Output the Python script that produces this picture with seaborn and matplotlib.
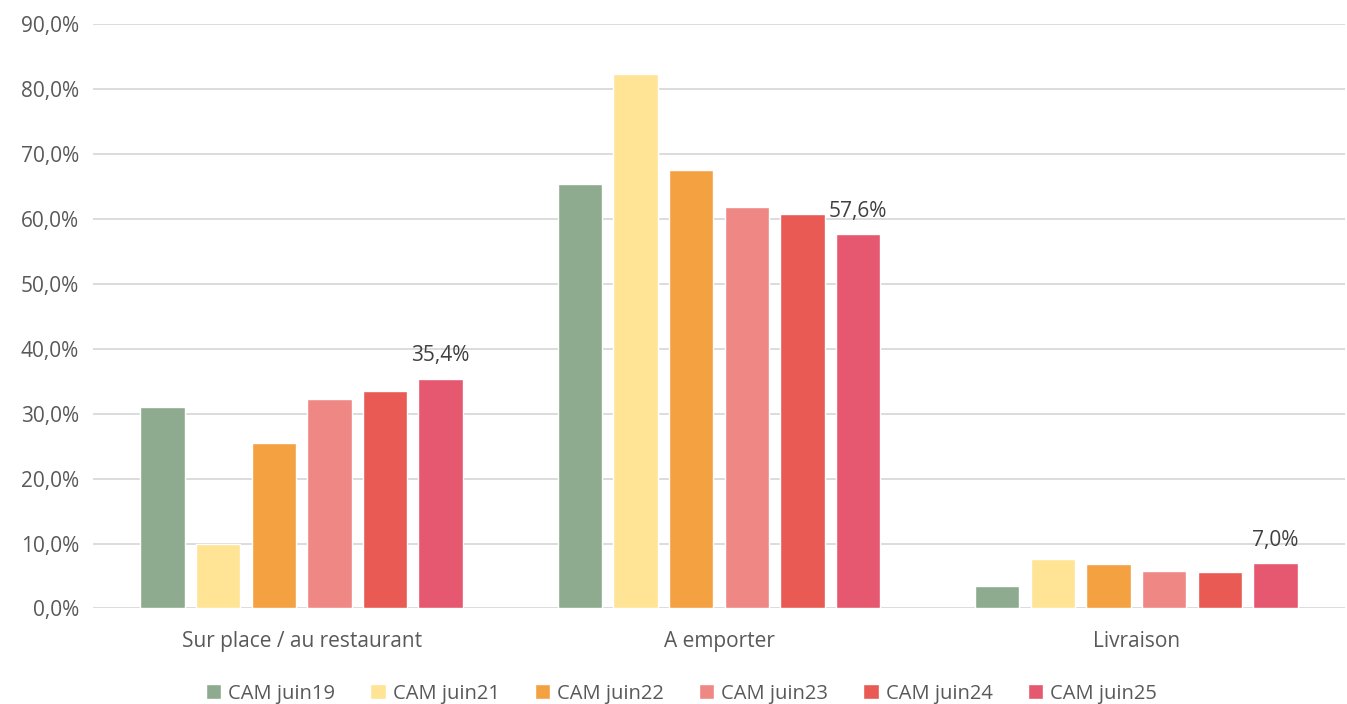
import pandas as pd
import matplotlib
matplotlib.use("Agg")
import matplotlib.pyplot as plt
from matplotlib.ticker import FuncFormatter
import seaborn as sns

# Data
categories = ["Sur place / au restaurant", "A emporter", "Livraison"]
series = ["CAM juin19", "CAM juin21", "CAM juin22", "CAM juin23", "CAM juin24", "CAM juin25"]
juin19 = [31.0, 65.4, 3.4]
juin21 = [10.0, 82.3, 7.6]
juin22 = [25.4, 67.5, 6.9]
juin23 = [32.3, 61.8, 5.8]
juin24 = [33.5, 60.7, 5.6]
juin25 = [35.4, 57.6, 7.0]
colors = ["#8EAA8F", "#FFE496", "#F4A142", "#EF8784", "#E85A53", "#E65770"]

rows = []
for name, vals in zip(series, [juin19, juin21, juin22, juin23, juin24, juin25]):
    for cat, v in zip(categories, vals):
        rows.append({"cat": cat, "serie": name, "val": v})
df = pd.DataFrame(rows)

sns.set_theme(style="whitegrid")
plt.rcParams["font.family"] = ["Open Sans", "DejaVu Sans"]
text_col = "#595959"

fig = plt.figure(figsize=(13.47, 7.04), dpi=100)
ax = fig.add_axes([0.069, 0.1357, 0.9295, 0.8303])

sns.barplot(data=df, x="cat", y="val", hue="serie", order=categories,
            hue_order=series, palette=colors, width=0.8, gap=0.2,
            saturation=1, ax=ax, legend=True)

ax.set_ylim(0, 90)
ax.set_yticks(range(0, 91, 10))
ax.yaxis.set_major_formatter(FuncFormatter(lambda v, p: f"{v:.1f}%".replace(".", ",")))
ax.set_xlim(-0.5, 2.5)
ax.grid(axis="y", color="#D9D9D9", linewidth=1.3)
ax.grid(axis="x", visible=False)
for s in ax.spines.values():
    s.set_visible(False)
ax.set_axisbelow(True)
ax.set_xlabel("")
ax.set_ylabel("")
ax.tick_params(axis="both", colors=text_col, labelsize=15, length=0)
ax.tick_params(axis="x", pad=16)
ax.tick_params(axis="y", pad=10)

# labels on the last series only
last = ax.containers[-1]
ax.bar_label(last, labels=[f"{v:.1f}%".replace(".", ",") for v in juin25],
             padding=9, fontsize=15, color="#404040")

ax.legend(loc="upper center", bbox_to_anchor=(0.47, -0.122), ncol=6, frameon=False,
          fontsize=14.5, handlelength=0.75, handleheight=0.75, handletextpad=0.35,
          columnspacing=1.75, labelcolor=text_col, borderaxespad=0, borderpad=0.2)

fig.savefig("out.png", dpi=100)
